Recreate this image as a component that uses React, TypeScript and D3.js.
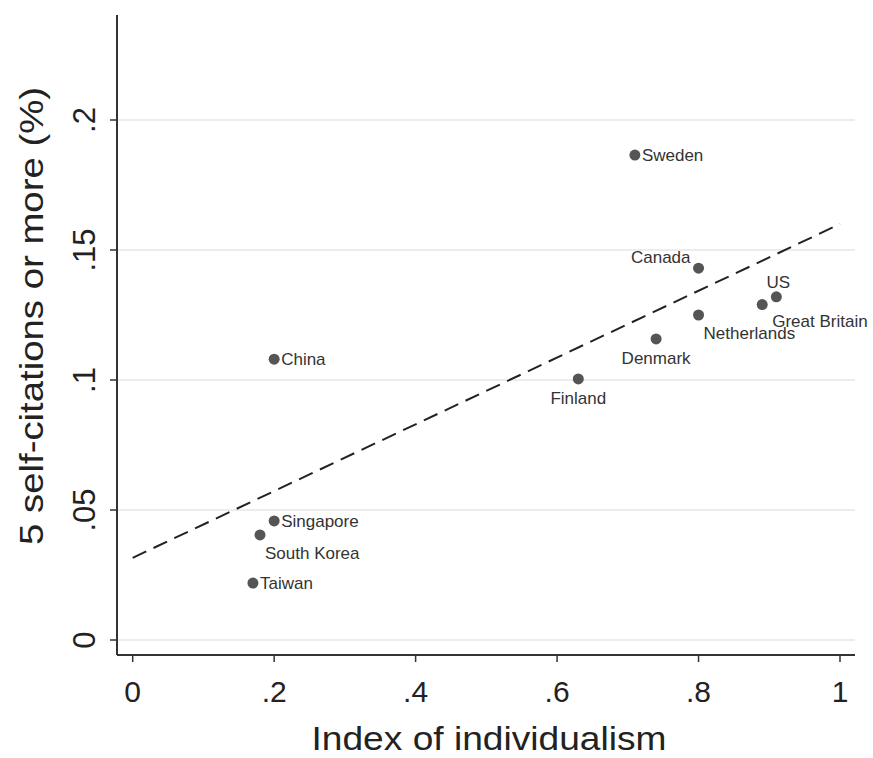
import React from "react";
import * as d3 from "d3";

const countries = ["Sweden", "Canada", "US", "Great Britain", "Netherlands", "Denmark", "Finland", "China", "Singapore", "South Korea", "Taiwan"];
const individualism = [0.71, 0.80, 0.91, 0.89, 0.80, 0.74, 0.63, 0.20, 0.20, 0.18, 0.17];
const selfCitations = [0.1865, 0.143, 0.132, 0.129, 0.125, 0.1158, 0.1004, 0.108, 0.0458, 0.0404, 0.0219];
const fitIntercept = 0.0316;
const fitSlope = 0.1284;
const xTicks = [0, 0.2, 0.4, 0.6, 0.8, 1];
const yTicks = [0, 0.05, 0.1, 0.15, 0.2];

// Stata-like clock positions for labels
const labelClock: Record<string, number> = {
  Sweden: 3, Canada: 10, US: 12, "Great Britain": 4, Netherlands: 5, Denmark: 6,
  Finland: 6, China: 3, Singapore: 3, "South Korea": 5, Taiwan: 3,
};

const fmt = (v: number) => (v === 0 ? "0" : v === 1 ? "1" : String(v).replace(/^0/, ""));

export default function App() {
  const W = 873, H = 758;
  const x = d3.scaleLinear().domain([0, 1]).range([132.7, 840]);
  const y = d3.scaleLinear().domain([0, 0.2]).range([640, 120]);
  const axL = 117, axB = 655, axT = 15, axR = 855;
  const line = d3.line<number>().x((d) => x(d)).y((d) => y(fitIntercept + fitSlope * d));
  const font = "Liberation Sans, Arial, sans-serif";

  const labelProps = (clock: number, px: number, py: number) => {
    switch (clock) {
      case 3: return { x: px + 7, y: py, anchor: "start" };
      case 10: return { x: px - 8, y: py - 11, anchor: "end" };
      case 12: return { x: px + 2, y: py - 15, anchor: "middle" };
      case 4: return { x: px + 10, y: py + 16, anchor: "start" };
      case 5: return { x: px + 5, y: py + 18, anchor: "start" };
      case 6: return { x: px, y: py + 19, anchor: "middle" };
      default: return { x: px + 7, y: py, anchor: "start" };
    }
  };

  return (
    <svg width={W} height={H} style={{ position: "absolute", left: 0, top: 0, background: "#fff" }}>
      {yTicks.map((t) => (
        <line key={"g" + t} x1={axL} x2={axR} y1={y(t)} y2={y(t)} stroke="#e6e6e6" strokeWidth={1.5} />
      ))}
      <line x1={axL} x2={axL} y1={axT} y2={axB} stroke="#333" strokeWidth={2} />
      <line x1={axL} x2={axR} y1={axB} y2={axB} stroke="#333" strokeWidth={2} />
      {yTicks.map((t) => (
        <g key={"y" + t}>
          <line x1={axL - 7} x2={axL} y1={y(t)} y2={y(t)} stroke="#333" strokeWidth={1.5} />
          <text transform={`translate(${95},${y(t)}) rotate(-90)`} textAnchor="middle" fontFamily={font} fontSize={31} fill="#222">{fmt(t)}</text>
        </g>
      ))}
      {xTicks.map((t) => (
        <g key={"x" + t}>
          <line x1={x(t)} x2={x(t)} y1={axB} y2={axB + 7} stroke="#333" strokeWidth={1.5} />
          <text x={x(t)} y={702} textAnchor="middle" fontFamily={font} fontSize={30} fill="#222">{fmt(t)}</text>
        </g>
      ))}
      <text x={489} y={750} textAnchor="middle" fontFamily={font} fontSize={34} fill="#222" textLength={355} lengthAdjust="spacingAndGlyphs">Index of individualism</text>
      <text transform={`translate(43,${316}) rotate(-90)`} textAnchor="middle" fontFamily={font} fontSize={34} fill="#222" textLength={458} lengthAdjust="spacingAndGlyphs">5 self-citations or more (%)</text>
      <path d={line([0, 1]) || ""} fill="none" stroke="#222" strokeWidth={2} strokeDasharray="15,8" />
      {countries.map((c, i) => {
        const px = x(individualism[i]);
        const py = y(selfCitations[i]);
        const lp = labelProps(labelClock[c], px, py);
        return (
          <g key={c}>
            <circle cx={px} cy={py} r={5.5} fill="#555" />
            <text x={lp.x} y={lp.y} dy="0.35em" textAnchor={lp.anchor as any} fontFamily={font} fontSize={17} fill="#333">{c}</text>
          </g>
        );
      })}
    </svg>
  );
}
